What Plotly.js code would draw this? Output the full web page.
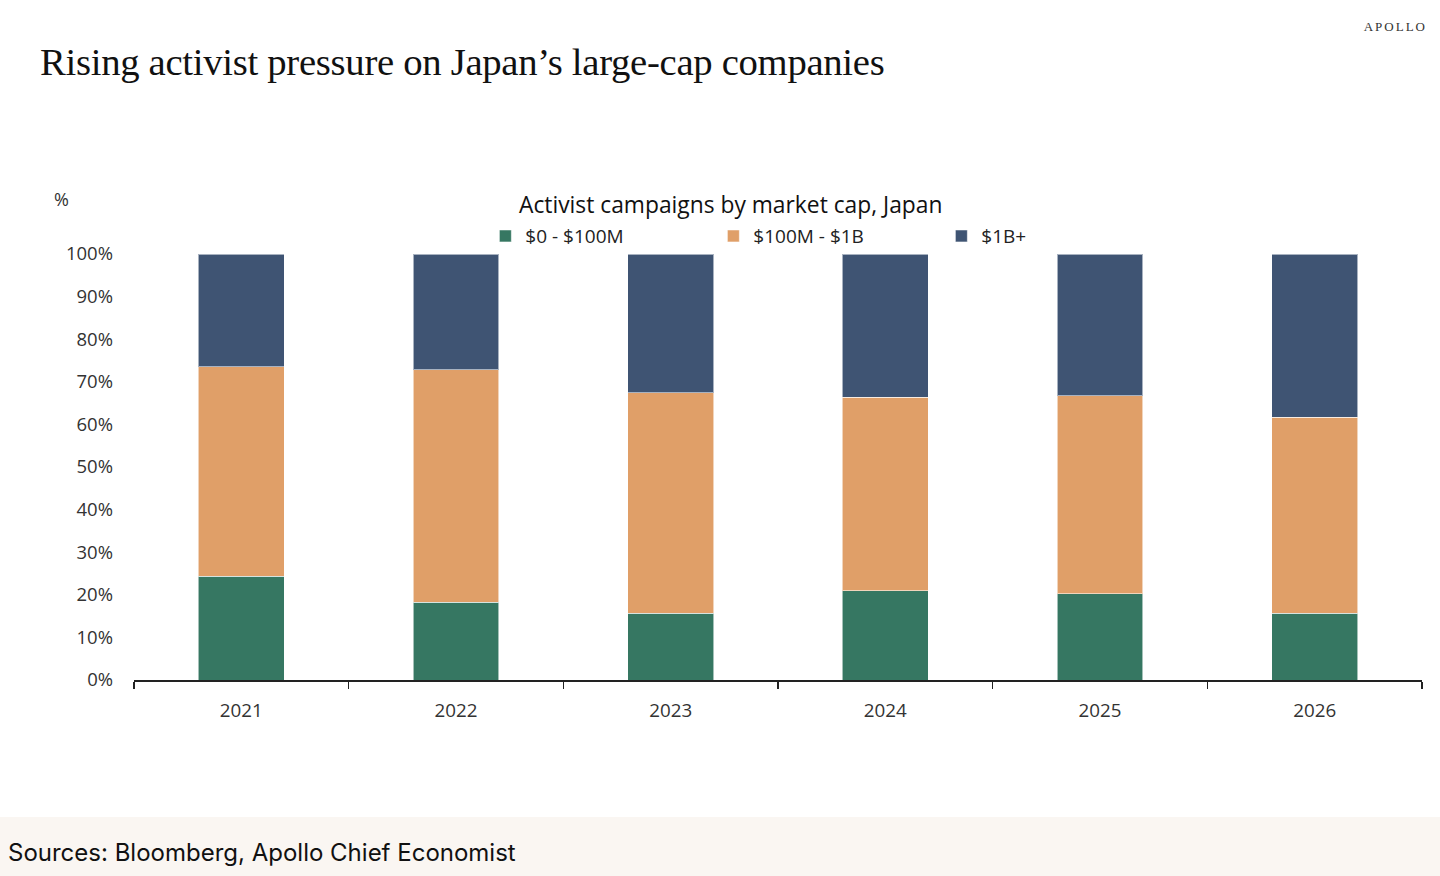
<!DOCTYPE html>
<html>
<head>
<meta charset="utf-8">
<script src="https://cdn.plot.ly/plotly-3.0.1.min.js"></script>
<style>
  html, body { margin:0; padding:0; background:#fff; }
  #page { position:relative; width:1440px; height:876px; overflow:hidden; }
  #title { position:absolute; left:40px; top:40px; font-family:"Liberation Serif", "DejaVu Serif", serif; font-size:38.7px; color:#111; letter-spacing:-0.3px; white-space:nowrap; }
  #logo { position:absolute; right:13px; top:19px; font-family:"Liberation Serif", serif; font-size:13px; letter-spacing:2px; color:#333; }
  #chart { position:absolute; left:0; top:0; width:1440px; height:876px; }
  #footer { position:absolute; left:0; top:817px; width:1440px; height:59px; background:#faf6f2; }
  #footer span { position:absolute; left:8px; top:21px; font-family:"Inter", "Noto Sans", sans-serif; font-size:24px; color:#111; white-space:nowrap; }
</style>
</head>
<body>
<div id="page">
  <div id="chart"></div>
  <div id="title">Rising activist pressure on Japan’s large-cap companies</div>
  <div id="logo">APOLLO</div>
  <div id="footer"><span>Sources: Bloomberg, Apollo Chief Economist</span></div>
</div>
<script>
// ---- data (share of campaigns, %) ----
const years = ['2021', '2022', '2023', '2024', '2025', '2026'];
const small = [24.4, 18.3, 15.7, 20.9, 20.2, 15.7];   // $0 - $100M
const mid   = [49.1, 54.5, 51.7, 45.5, 46.5, 46.0];   // $100M - $1B
const large = [26.5, 27.2, 32.6, 33.6, 33.3, 38.3];   // $1B+
const yTicks = [0, 10, 20, 30, 40, 50, 60, 70, 80, 90, 100];

const COLORS = { small: '#367762', mid: '#e09f68', large: '#3f5473' };
const FONT = '"Open Sans", "Noto Sans", sans-serif';

function barTrace(name, values, color) {
  return {
    type: 'bar',
    name,
    x: years,
    y: values,
    width: 0.4,
    marker: { color, line: { color: 'rgba(255,255,255,0.55)', width: 1 } },
    hovertemplate: name + ' %{x}: %{y:.1f}%<extra></extra>'
  };
}

const traces = [
  barTrace('$0 - $100M', small, COLORS.small),
  barTrace('$100M - $1B', mid, COLORS.mid),
  barTrace('$1B+', large, COLORS.large)
];

const layout = {
  width: 1440,
  height: 876,
  margin: { l: 134, r: 18, t: 254, b: 196 },
  paper_bgcolor: 'rgba(0,0,0,0)',
  plot_bgcolor: 'rgba(0,0,0,0)',
  barmode: 'stack',
  font: { family: FONT, size: 18, color: '#333' },
  showlegend: true,
  legend: {
    orientation: 'h',
    x: 0.2728, xanchor: 'left',
    y: 1.042, yanchor: 'middle',
    entrywidth: 183, entrywidthmode: 'pixels',
    itemwidth: 30,
    traceorder: 'normal',
    font: { family: FONT, size: 19, color: '#222' },
    bgcolor: 'rgba(0,0,0,0)'
  },
  xaxis: {
    type: 'category',
    showgrid: false,
    showline: true,
    linecolor: '#222',
    linewidth: 1.5,
    ticks: 'outside',
    tickson: 'boundaries',
    ticklen: 7,
    tickcolor: '#222',
    tickwidth: 1.5,
    ticklabelstandoff: 13,
    tickfont: { family: FONT, size: 18.8, color: '#333' },
    zeroline: false
  },
  yaxis: {
    range: [0, 100],
    tickvals: yTicks,
    ticktext: yTicks.map(v => v + '%'),
    showgrid: false,
    showline: false,
    zeroline: false,
    ticks: '',
    ticklabelstandoff: 20,
    tickfont: { family: FONT, size: 18.5, color: '#333' }
  },
  annotations: [
    {
      xref: 'paper', yref: 'paper', x: 0.4635, y: 1.117,
      xanchor: 'center', yanchor: 'middle', showarrow: false,
      text: 'Activist campaigns by market cap, Japan',
      font: { family: FONT, size: 22.8, color: '#111' }
    },
    {
      xref: 'paper', yref: 'paper', x: -0.056, y: 1.129,
      xanchor: 'center', yanchor: 'middle', showarrow: false,
      text: '%',
      font: { family: FONT, size: 18, color: '#333' }
    }
  ]
};

Plotly.newPlot('chart', traces, layout, { displayModeBar: false, staticPlot: true });
</script>
</body>
</html>
